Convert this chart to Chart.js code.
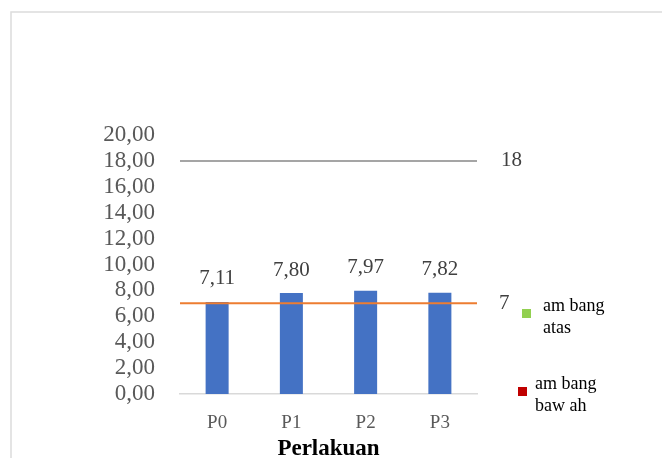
<!DOCTYPE html>
<html>
<head>
<meta charset="utf-8">
<script src="https://cdn.jsdelivr.net/npm/chart.js@4"></script>
<style>
  html, body { margin: 0; padding: 0; background: #fff; }
  #wrap { width: 662px; height: 458px; }
</style>
</head>
<body>
<div id="wrap"><canvas id="chart" width="662" height="458"></canvas></div>
<script>
const categories = ["P0", "P1", "P2", "P3"];
const values = [7.11, 7.80, 7.97, 7.82];
const upperLimit = 18;
const lowerLimit = 7;
const yTicks = [0, 2, 4, 6, 8, 10, 12, 14, 16, 18, 20];
const legendNames = [["am bang", "atas"], ["am bang", "baw ah"]];
const legendColors = ["#92D050", "#C00000"];

const serif = "'Liberation Serif', 'Times New Roman', serif";
const fmt = (v) => v.toFixed(2).replace(".", ",");

const extras = {
  id: "extras",
  beforeDraw(chart) {
    const ctx = chart.ctx;
    ctx.save();
    ctx.strokeStyle = "#DCDCDC";
    ctx.lineWidth = 1.5;
    ctx.beginPath();
    ctx.moveTo(11, 458);
    ctx.lineTo(11, 12);
    ctx.lineTo(662, 12);
    ctx.stroke();
    ctx.restore();
  },
  afterDatasetsDraw(chart) {
    const ctx = chart.ctx;
    const y = chart.scales.y;
    const area = chart.chartArea;
    ctx.save();
    ctx.fillStyle = "#404040";
    ctx.font = "21px " + serif;
    ctx.textAlign = "center";
    ctx.textBaseline = "middle";
    // value labels above bars
    chart.getDatasetMeta(0).data.forEach((bar, i) => {
      ctx.fillText(fmt(values[i]), bar.x, bar.y - 23);
    });
    // line value labels
    ctx.textAlign = "left";
    ctx.fillText(String(upperLimit), area.right + 24, y.getPixelForValue(upperLimit));
    ctx.fillText(String(lowerLimit), area.right + 22, y.getPixelForValue(lowerLimit));
    // legend (hand placed, two-line labels)
    ctx.font = "18px " + serif;
    const legendY = [306, 384];
    const boxX = [522, 518];
    const textX = [543, 535];
    legendNames.forEach((lines, i) => {
      const top = legendY[i];
      ctx.fillStyle = legendColors[i];
      ctx.fillRect(boxX[i], top + 3, 9, 9);
      ctx.fillStyle = "#000";
      lines.forEach((t, j) => ctx.fillText(t, textX[i], top + j * 22));
    });
    ctx.restore();
  }
};

new Chart(document.getElementById("chart"), {
  data: {
    labels: categories,
    datasets: [
      {
        type: "bar",
        label: "Nilai",
        data: values,
        backgroundColor: "#4472C4",
        grouped: false,
        categoryPercentage: 1,
        barPercentage: 0.31,
        order: 2
      },
      {
        type: "line",
        label: "ambang atas",
        data: [{ x: 0, y: upperLimit }, { x: 1, y: upperLimit }],
        xAxisID: "x2",
        borderColor: "#A5A5A5",
        borderWidth: 2,
        pointRadius: 0,
        order: 1
      },
      {
        type: "line",
        label: "ambang bawah",
        data: [{ x: 0, y: lowerLimit }, { x: 1, y: lowerLimit }],
        xAxisID: "x2",
        borderColor: "#ED7D31",
        borderWidth: 2,
        pointRadius: 0,
        order: 1
      }
    ]
  },
  options: {
    responsive: false,
    animation: false,
    layout: { padding: { left: 20, top: 135, right: 185, bottom: 0 } },
    plugins: {
      legend: { display: false },
      tooltip: { enabled: false }
    },
    scales: {
      x: {
        type: "category",
        grid: { display: false },
        border: { display: true, color: "#D9D9D9", width: 1.5 },
        ticks: { color: "#595959", font: { family: serif, size: 19 }, padding: 10 },
        title: {
          display: true,
          text: "Perlakuan",
          color: "#000",
          font: { family: serif, size: 23, weight: "bold" },
          padding: { top: 0, bottom: -5 }
        },
        afterFit(scale) { scale.height = 64; }
      },
      x2: { type: "linear", min: 0, max: 1, display: false },
      y: {
        min: 0,
        max: 20,
        afterBuildTicks(scale) { scale.ticks = yTicks.map((v) => ({ value: v })); },
        grid: { display: false },
        border: { display: false },
        ticks: {
          autoSkip: false,
          color: "#595959",
          font: { family: serif, size: 23 },
          padding: 17,
          callback: (v) => fmt(v)
        },
        afterFit(scale) { scale.width = 160; }
      }
    }
  },
  plugins: [extras]
});
</script>
</body>
</html>
